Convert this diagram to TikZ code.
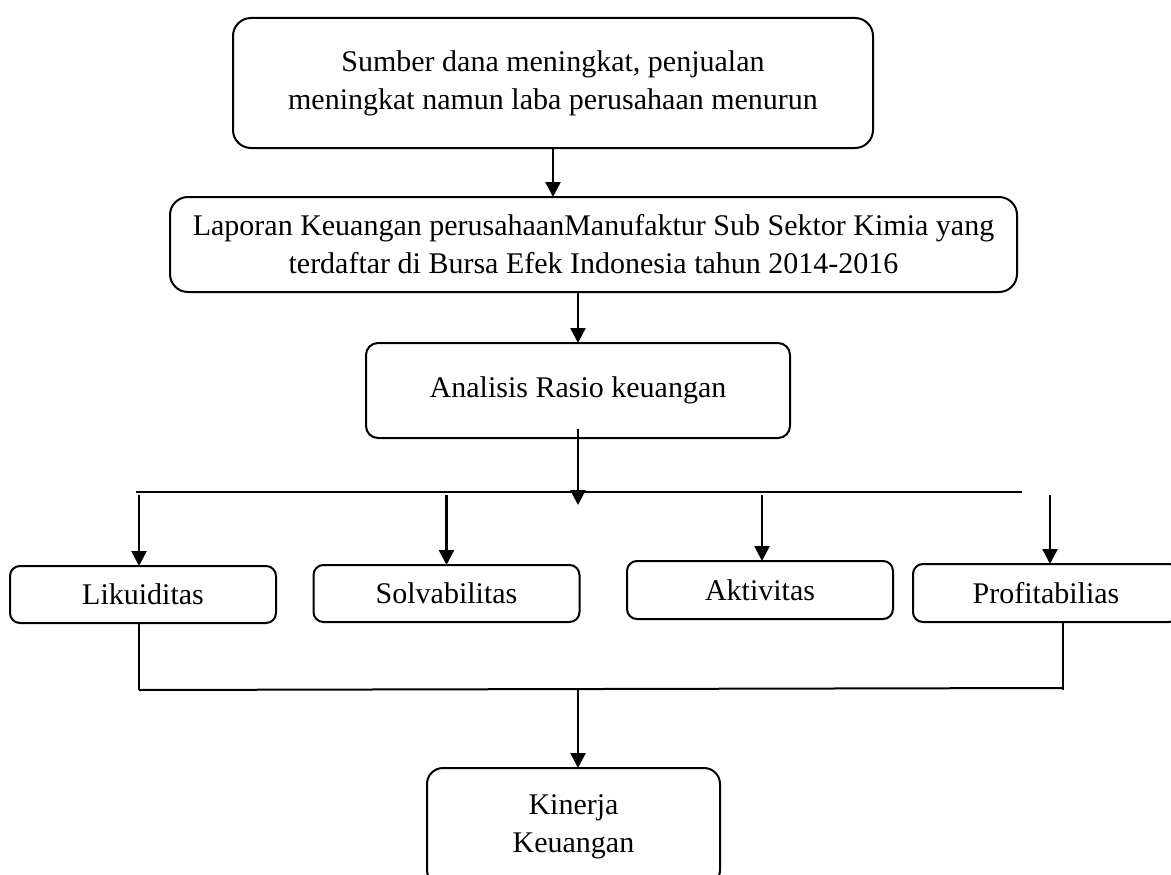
\documentclass[tikz,border=0pt]{standalone}
\usepackage{fontspec}
\setmainfont{Liberation Serif}
\usepackage{tikz}
\usetikzlibrary{calc}
\usetikzlibrary{positioning}
\usetikzlibrary{arrows.meta}

\begin{document}
\begin{tikzpicture}[
    y = -1pt,
    x = 1pt,
    font = \fontsize{30}{38}\selectfont,
    bigf/.style = {
      rectangle,
      draw=black,
      rounded corners=18pt,
      line width=2pt,
      align=center,
      inner sep=0pt,
      outer sep=0pt
    },
    smallf/.style = {
      rectangle,
      draw=black,
      rounded corners=10pt,
      line width=2pt,
      align=center,
      inner sep=0pt,
      outer sep=0pt,
      minimum width=266pt,
      minimum height=57pt
    },
    arrowa/.style = {
      -{Triangle[length=15pt,width=15pt]},
      line width=2.5pt
    },
    linea/.style = {
      line width=2pt
    }
  ]
    \useasboundingbox (0,0) rectangle (1171,875);
    \node[bigf, minimum width=640pt, minimum height=130pt] (sumber) at (553,83)
      {Sumber dana meningkat, penjualan\\meningkat namun laba perusahaan menurun};
    \node[bigf, minimum width=847pt, minimum height=95pt] (laporan) at (593.5,244.5)
      {Laporan Keuangan perusahaanManufaktur Sub Sektor Kimia yang\\terdaftar di Bursa Efek Indonesia tahun 2014-2016};
    \node[bigf, rounded corners=12pt, minimum width=424pt, minimum height=95pt] (analisis) at (578,390.5)
      {Analisis Rasio keuangan};
    \node[smallf] (likuid) at (143,594.5) {Likuiditas};
    \node[smallf] (solva) at (446.5,593.5) {Solvabilitas};
    \node[smallf, minimum height=58pt] (aktiv) at (760,590) {Aktivitas};
    \node[smallf, minimum height=58pt] (profit) at (1046,593) {Profitabilias};
    \node[bigf, rounded corners=16pt, minimum width=293pt, minimum height=118pt] (kinerja) at (573.5,827)
      {Kinerja\\Keuangan};

    % garis pembagi
    \coordinate (busL) at (136,492);
    \coordinate (busR) at (1022,492);
    \coordinate (busM) at (578,505);
    \coordinate (joinL) at (139,690);
    \coordinate (joinR) at (1063,688);
    \coordinate (joinM) at (578,690);

    \draw[arrowa] (sumber.south) -- (sumber.south |- laporan.north);
    \draw[arrowa] (analisis.north |- laporan.south) -- (analisis.north);
    \draw[arrowa] ([yshift=9pt]analisis.south) -- (busM);
    \draw[linea] (busL) -- (busR);
    \draw[arrowa] ([yshift=-3pt]busL -| 139,0) -- (139,0 |- likuid.north);
    \draw[arrowa] ([yshift=-3pt]busL -| solva.north) -- (solva.north);
    \draw[arrowa] ([yshift=-3pt]busL -| 762,0) -- (762,0 |- aktiv.north);
    \draw[arrowa] ([yshift=-3pt]busL -| 1050,0) -- (1050,0 |- profit.north);

    \draw[linea] (likuid.south -| joinL) -- (joinL);
    \draw[linea] (profit.south -| joinR) -- (1063,690);
    \draw[linea] (joinL) -- (joinR);
    \draw[arrowa] (joinM) -- (joinM |- kinerja.north);
  \end{tikzpicture}
\end{document}
